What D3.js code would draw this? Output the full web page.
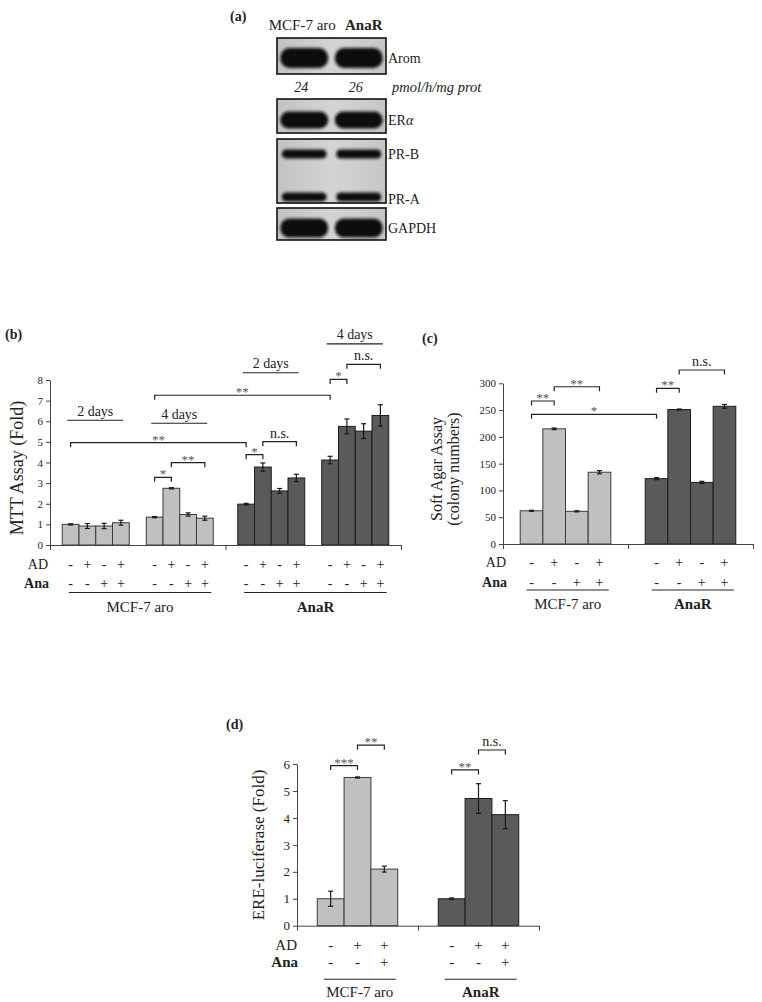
<!DOCTYPE html>
<html><head><meta charset="utf-8">
<script src="https://cdn.jsdelivr.net/npm/d3@7"></script>
<style>
body{margin:0;background:#fff}
svg{display:block}
text{font-family:"Liberation Serif","Times New Roman",serif;fill:#222}
</style>
</head><body>
<svg id="fig" width="762" height="1002"></svg>
<script>
// ================= DATA =================
// (a) western blot
const blotLanes = ["MCF-7 aro", "AnaR"];
const blotProteins = ["Arom", "ERα", "PR-B", "PR-A", "GAPDH"];
const blotIntensity = [[1.0, 1.0], [0.95, 1.0], [0.85, 0.9], [0.85, 0.9], [1.0, 1.0]];
const aromActivity = [24, 26];
const aromUnit = "pmol/h/mg prot";

// shared
const cellLines = ["MCF-7 aro", "AnaR"];

// (b) MTT assay, 4 clusters (MCF-7 2d, MCF-7 4d, AnaR 2d, AnaR 4d)
const mttPeriods = ["2 days", "4 days", "2 days", "4 days"];
const mttAD  = ["-", "+", "-", "+"];
const mttAna = ["-", "-", "+", "+"];
const mttValues = [
  [1.00, 0.92, 0.92, 1.08],
  [1.35, 2.75, 1.48, 1.30],
  [1.98, 3.78, 2.62, 3.25],
  [4.12, 5.75, 5.52, 6.28]
];
const mttErrors = [
  [0.03, 0.12, 0.13, 0.12],
  [0.03, 0.03, 0.08, 0.10],
  [0.04, 0.20, 0.12, 0.18],
  [0.18, 0.36, 0.36, 0.52]
];
const mttTicks = [0, 1, 2, 3, 4, 5, 6, 7, 8];
const mttPeriodLevels = [6.05, 5.9, 8.35, 9.75];
const mttSig = [
  {a: [0, 0], b: [2, 0], level: 4.96, label: "**"},
  {a: [1, 0], b: [3, 0], level: 7.26, label: "**"},
  {a: [1, 0], b: [1, 1], level: 3.28, label: "*"},
  {a: [1, 1], b: [1, 3], level: 3.99, label: "**"},
  {a: [2, 0], b: [2, 1], level: 4.38, label: "*"},
  {a: [2, 1], b: [2, 3], level: 5.01, label: "n.s."},
  {a: [3, 0], b: [3, 1], level: 8.03, label: "*"},
  {a: [3, 1], b: [3, 3], level: 8.76, label: "n.s."}
];

// (c) soft agar
const softAD  = ["-", "+", "-", "+"];
const softAna = ["-", "-", "+", "+"];
const softValues = [[62, 215, 61, 134], [122, 251, 115, 257]];
const softErrors = [[1, 1.5, 1, 3], [2, 1, 2, 3.5]];
const softTicks = [0, 50, 100, 150, 200, 250, 300];
const softSig = [
  {a: [0, 0], b: [0, 1], level: 267, label: "**"},
  {a: [0, 1], b: [0, 3], level: 293.6, label: "**"},
  {a: [0, 0], b: [1, 0], level: 242, label: "*"},
  {a: [1, 0], b: [1, 1], level: 290.6, label: "**"},
  {a: [1, 1], b: [1, 3], level: 324.8, label: "n.s."}
];

// (d) ERE-luciferase
const ereAD  = ["-", "+", "+"];
const ereAna = ["-", "-", "+"];
const ereValues = [[1.0, 5.5, 2.1], [1.0, 4.72, 4.12]];
const ereErrors = [[0.28, 0.02, 0.11], [0.03, 0.55, 0.52]];
const ereTicks = [0, 1, 2, 3, 4, 5, 6];
const ereSig = [
  {a: [0, 0], b: [0, 1], level: 5.94, label: "***"},
  {a: [0, 1], b: [0, 2], level: 6.70, label: "**"},
  {a: [1, 0], b: [1, 1], level: 5.78, label: "**"},
  {a: [1, 1], b: [1, 2], level: 6.52, label: "n.s."}
];

// ================= DRAWING =================
const svg = d3.select("#fig");
const FILL = ["#c0c0c0", "#5a5a5a"];
const STROKE = ["#3a3a3a", "#1c1c1c"];
const SERIF = '"Liberation Serif","Times New Roman",serif';

function panelLabel(txt, x, y) {
  svg.append("text").attr("x", x).attr("y", y).attr("font-size", 14)
    .attr("font-weight", "bold").text(txt);
}

// ---------- (a) blot ----------
(function () {
  panelLabel("(a)", 230, 21);
  const defs = svg.append("defs");
  defs.append("filter").attr("id", "blur").attr("x", "-20%").attr("y", "-50%")
    .attr("width", "140%").attr("height", "200%")
    .append("feGaussianBlur").attr("stdDeviation", 1.4);
  const grad = defs.append("linearGradient").attr("id", "bg");
  grad.append("stop").attr("offset", "0%").attr("stop-color", "#c2c2c2");
  grad.append("stop").attr("offset", "50%").attr("stop-color", "#d4d4d4");
  grad.append("stop").attr("offset", "100%").attr("stop-color", "#c6c6c6");

  const lane = d3.scaleBand().domain(blotLanes).range([277, 386]);
  const lc = l => lane(l) + lane.bandwidth() / 2;

  svg.selectAll(".laneT").data(blotLanes).join("text")
    .attr("x", (d, i) => i === 0 ? lc(d) - 2 : lc(d) + 5).attr("y", 30)
    .attr("text-anchor", "middle").attr("font-size", 15)
    .attr("font-weight", (d, i) => i === 1 ? "bold" : null).text(d => d);

  // layout of boxes and bands (pixel layout, not data)
  const boxes = [
    {top: 38, bottom: 74, bands: [{p: 0, cy: 58, h: 20, w: 48}]},
    {top: 99, bottom: 133, bands: [{p: 1, cy: 120, h: 17, w: 48}]},
    {top: 139, bottom: 203, bands: [{p: 2, cy: 154, h: 9, w: 45}, {p: 3, cy: 197, h: 9, w: 45}]},
    {top: 208, bottom: 240, bands: [{p: 4, cy: 228, h: 19, w: 48}]}
  ];
  boxes.forEach(b => {
    svg.append("rect").attr("x", 277).attr("y", b.top).attr("width", 109)
      .attr("height", b.bottom - b.top).attr("fill", "url(#bg)")
      .attr("stroke", "#111").attr("stroke-width", 1.6);
    b.bands.forEach(bd => {
      blotLanes.forEach((l, li) => {
        const inten = blotIntensity[bd.p][li];
        const h = bd.h * (0.85 + 0.15 * inten);
        svg.append("rect").attr("x", lc(l) - bd.w / 2).attr("y", bd.cy - h / 2)
          .attr("width", bd.w).attr("height", h).attr("rx", Math.min(h / 2, 9)).attr("ry", h / 2)
          .attr("fill", "#0e0e0e").attr("filter", "url(#blur)");
      });
      const t = svg.append("text").attr("x", 388).attr("y", bd.p === 3 ? 204 : bd.cy + 5).attr("font-size", 14);
      const name = blotProteins[bd.p];
      if (name === "ERα") {
        t.append("tspan").text("ER");
        t.append("tspan").attr("font-style", "italic").text("α");
      } else t.text(name);
    });
  });

  svg.selectAll(".act").data(aromActivity).join("text")
    .attr("x", (d, i) => lc(blotLanes[i]) - 3).attr("y", 92).attr("text-anchor", "middle")
    .attr("font-size", 14).attr("font-style", "italic").text(d => d);
  svg.append("text").attr("x", 392).attr("y", 92).attr("font-size", 14.5)
    .attr("font-style", "italic").text(aromUnit);
})();

// ---------- generic bar panel ----------
function barPanel(cfg) {
  const g = svg.append("g");
  const nCat = cfg.cats.length;
  const nClu = cfg.values.length / nCat;
  const nBar = cfg.values[0].length;
  const cat = d3.scaleBand().domain(cfg.cats).range([cfg.x0, cfg.x1]);
  const clu = d3.scaleBand().domain(d3.range(nClu)).range([0, cat.bandwidth()])
    .paddingInner(cfg.pi || 0).paddingOuter(cfg.po);
  const bar = d3.scaleBand().domain(d3.range(nBar)).range([0, clu.bandwidth()]);
  const y = d3.scaleLinear().domain([0, cfg.yMax]).range([cfg.yBase, cfg.yTop]);
  const catOf = ci => Math.floor(ci / nClu);
  const cluX = ci => cat(cfg.cats[catOf(ci)]) + clu(ci % nClu);
  const barX = (ci, bi) => cluX(ci) + bar(bi);
  const barC = (ci, bi) => barX(ci, bi) + bar.bandwidth() / 2;

  const flat = [];
  cfg.values.forEach((arr, ci) => arr.forEach((v, bi) =>
    flat.push({ci, bi, v, e: cfg.errors[ci][bi]})));

  // bars
  g.selectAll(".bar").data(flat).join("rect")
    .attr("x", d => barX(d.ci, d.bi)).attr("y", d => y(d.v))
    .attr("width", bar.bandwidth()).attr("height", d => y(0) - y(d.v))
    .attr("fill", d => FILL[catOf(d.ci)]).attr("stroke", d => STROKE[catOf(d.ci)])
    .attr("stroke-width", 1);

  // error bars
  const eb = g.selectAll(".eb").data(flat).join("g").attr("stroke", "#1a1a1a").attr("stroke-width", 1.2);
  eb.append("line").attr("x1", d => barC(d.ci, d.bi)).attr("x2", d => barC(d.ci, d.bi))
    .attr("y1", d => y(d.v - d.e)).attr("y2", d => y(d.v + d.e));
  eb.append("line").attr("x1", d => barC(d.ci, d.bi) - 2.5).attr("x2", d => barC(d.ci, d.bi) + 2.5)
    .attr("y1", d => y(d.v + d.e)).attr("y2", d => y(d.v + d.e));
  eb.append("line").attr("x1", d => barC(d.ci, d.bi) - 2.5).attr("x2", d => barC(d.ci, d.bi) + 2.5)
    .attr("y1", d => y(d.v - d.e)).attr("y2", d => y(d.v - d.e));

  // y axis
  const ya = g.append("g").attr("transform", `translate(${cfg.x0},0)`)
    .call(d3.axisLeft(y).tickValues(cfg.ticks).tickFormat(d3.format("d"))
      .tickSize(4).tickSizeOuter(0).tickPadding(3));
  ya.attr("font-family", SERIF);
  ya.select(".domain").attr("stroke", "#444");
  ya.selectAll(".tick line").attr("stroke", "#444");
  ya.selectAll(".tick text").attr("font-size", cfg.tickFont).attr("fill", "#222");

  // x axis
  const xb = d3.scaleLinear().domain([0, nCat]).range([cfg.x0, cfg.x1]);
  const xa = g.append("g").attr("transform", `translate(0,${cfg.yBase})`)
    .call(d3.axisBottom(xb).tickValues(d3.range(nCat + 1)).tickFormat("").tickSize(5).tickSizeOuter(0));
  xa.select(".domain").attr("stroke", "#444");
  xa.selectAll(".tick line").attr("stroke", "#444");

  // y title
  const yt = g.append("text").attr("text-anchor", "middle")
    .attr("transform", `translate(${cfg.ytX},${cfg.ytY}) rotate(-90)`)
    .attr("font-size", cfg.ytFont);
  cfg.ytitle.forEach((t, i) => yt.append("tspan").attr("x", 0).attr("dy", i === 0 ? 0 : cfg.ytFont * 1.05).text(t));

  // treatment rows
  const rows = [{name: "AD", signs: cfg.AD, y: cfg.rowY[0], bold: false},
                {name: "Ana", signs: cfg.Ana, y: cfg.rowY[1], bold: true}];
  rows.forEach(r => {
    g.append("text").attr("x", cfg.rowLabelX + (r.bold ? 1 : 0)).attr("y", r.y).attr("text-anchor", "end")
      .attr("font-size", cfg.rowFont).attr("font-weight", r.bold ? "bold" : null).text(r.name);
    g.selectAll(null).data(flat).join("text")
      .attr("x", d => barC(d.ci, d.bi)).attr("y", r.y).attr("text-anchor", "middle")
      .attr("font-size", cfg.rowFont).text(d => r.signs[d.bi]);
  });

  // cell line underline + names
  cfg.cats.forEach((c, k) => {
    const first = k * nClu, last = k * nClu + nClu - 1;
    const xa1 = barX(first, 0) + 6.5;
    const xa2 = barX(last, nBar - 1) + bar.bandwidth() - 2;
    g.append("line").attr("x1", xa1).attr("x2", xa2).attr("y1", cfg.lineY).attr("y2", cfg.lineY)
      .attr("stroke", "#222").attr("stroke-width", 1.1);
    g.append("text").attr("x", (xa1 + xa2) / 2).attr("y", cfg.nameY).attr("text-anchor", "middle")
      .attr("font-size", 15).attr("font-weight", k === 1 ? "bold" : null).text(c);
  });

  // significance brackets
  cfg.sig.forEach(s => {
    const xA = barC(s.a[0], s.a[1]), xB = barC(s.b[0], s.b[1]);
    const yy = y(s.level);
    g.append("path").attr("d", `M${xA},${yy + 4.5}V${yy}H${xB}V${yy + 4.5}`)
      .attr("fill", "none").attr("stroke", "#222").attr("stroke-width", 1.2);
    const star = s.label !== "n.s.";
    g.append("text").attr("x", (xA + xB) / 2).attr("y", star ? yy + 1 : yy - 4)
      .attr("text-anchor", "middle").attr("font-size", star ? 13 : 14)
      .style("fill", star ? "#555" : "#222").text(s.label);
  });

  // period labels
  if (cfg.periods) {
    cfg.periods.forEach((p, ci) => {
      const x1 = cluX(ci) + 5, x2 = cluX(ci) + clu.bandwidth() - 6;
      const yy = y(cfg.periodLevels[ci]);
      g.append("line").attr("x1", x1).attr("x2", x2).attr("y1", yy).attr("y2", yy)
        .attr("stroke", "#222").attr("stroke-width", 1.1);
      g.append("text").attr("x", (x1 + x2) / 2).attr("y", yy - 4.5).attr("text-anchor", "middle")
        .attr("font-size", 14).text(p);
    });
  }
}

// ---------- (b) ----------
panelLabel("(b)", 5, 339);
barPanel({
  cats: cellLines, values: mttValues, errors: mttErrors, ticks: mttTicks,
  x0: 50, x1: 401, yBase: 545, yTop: 380, yMax: 8, pi: 0.2024, po: 0.1459,
  tickFont: 11, ytitle: ["MTT Assay (Fold)"], ytX: 23, ytY: 468, ytFont: 18,
  AD: mttAD, Ana: mttAna, rowY: [568.5, 587.5], rowLabelX: 48, rowFont: 14,
  lineY: 592.5, nameY: 611.5, sig: mttSig, periods: mttPeriods, periodLevels: mttPeriodLevels
});

// ---------- (c) ----------
panelLabel("(c)", 422, 343);
barPanel({
  cats: cellLines, values: softValues, errors: softErrors, ticks: softTicks,
  x0: 503, x1: 753, yBase: 544, yTop: 383.3, yMax: 300, pi: 0, po: 0.19,
  tickFont: 11, ytitle: ["Soft Agar Assay", "(colony numbers)"], ytX: 442, ytY: 469, ytFont: 16,
  AD: softAD, Ana: softAna, rowY: [567, 587], rowLabelX: 506, rowFont: 14,
  lineY: 590, nameY: 609, sig: softSig
});

// ---------- (d) ----------
panelLabel("(d)", 226, 729);
barPanel({
  cats: cellLines, values: ereValues, errors: ereErrors, ticks: ereTicks,
  x0: 297, x1: 539, yBase: 925.7, yTop: 764, yMax: 6, pi: 0, po: 0.2516,
  tickFont: 13, ytitle: ["ERE-luciferase (Fold)"], ytX: 264, ytY: 845, ytFont: 17,
  AD: ereAD, Ana: ereAna, rowY: [950, 966.5], rowLabelX: 297, rowFont: 15,
  lineY: 979.3, nameY: 996.5, sig: ereSig
});
</script>
</body></html>
